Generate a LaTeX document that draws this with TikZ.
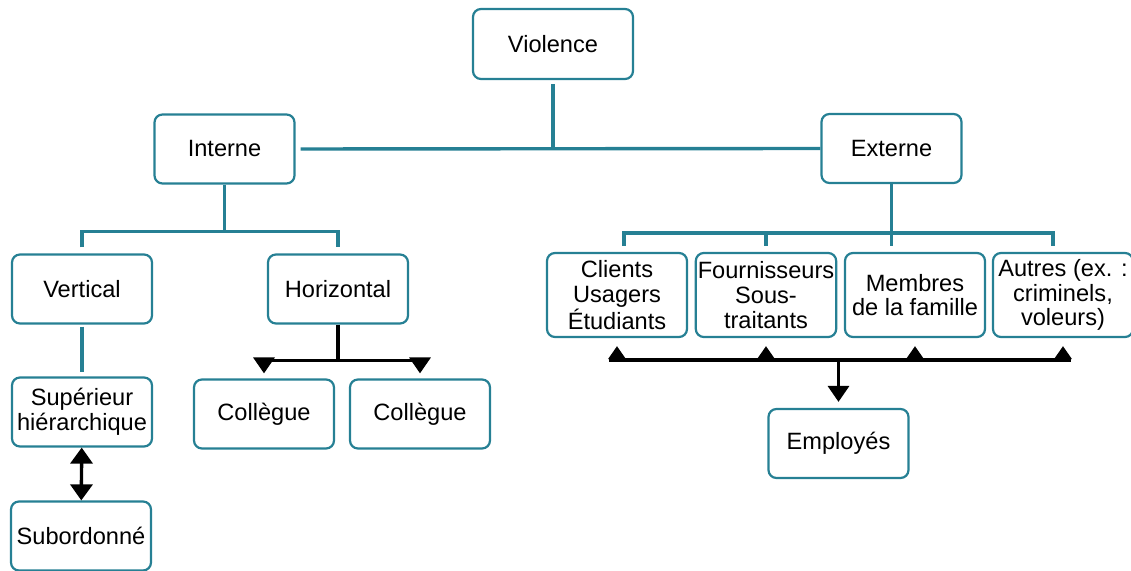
\documentclass[tikz,border=0pt]{standalone}
\usepackage{fontspec}
\setmainfont{Liberation Sans}
\usetikzlibrary{arrows.meta,positioning}
\definecolor{bleu}{RGB}{38,128,148}

\begin{document}
\begin{tikzpicture}[x=0.5pt, y=-0.5pt,
  box/.style={draw=bleu, line width=1.1pt, rounded corners=4pt, align=center, font=\fontsize{11.8}{12.3}\selectfont, minimum width=70pt, minimum height=34.5pt, inner sep=1pt},
  tall/.style={box, minimum height=42pt},
  link/.style={draw=bleu, line width=1.7pt},
  flow/.style={line width=1.7pt},
  tip/.style={-{Triangle[length=8pt, width=10.5pt]}}]
\useasboundingbox (0,0) rectangle (1131,571);
\node[box, minimum width=80pt, minimum height=35pt] (vio) at (553,44) {Violence};
\node[box] (int) at (224.5,149) {Interne};
\node[box] (ext) at (891.5,148.5) {Externe};
\node[box] (ver) at (82,289) {Vertical};
\node[box] (hor) at (338,289) {Horizontal};
\node[box] (sup) at (82,412) {Supérieur\\hiérarchique};
\node[box] (sub) at (81,536) {Subordonné};
\node[box] (col1) at (264,414) {Collègue};
\node[box] (col2) at (420,414) {Collègue};
\node[tall] (cli) at (617,295) {Clients\\Usagers\\Étudiants};
\node[tall] (fou) at (766,295) {Fournisseurs\\Sous-\\traitants};
\node[tall] (fam) at (915,295) {Membres\\de la famille};
\node[tall] (aut) at (1063,295) {Autres (ex. :\\criminels,\\voleurs)};
\node[box] (emp) at (838.5,443.5) {Employés};
% interne / externe
\draw[link, shorten <=2pt] (vio.south) -- (vio.south |- int.east);
\draw[link, shorten <=2.5pt] (int.east) -- (ext.west);
\draw[link] (int.south) -- ++(0,47) coordinate (ib);
\draw[link] ([yshift=3pt]ver.north) |- (ib) -| ([yshift=3pt]hor.north);
\draw[link, shorten <=1pt, shorten >=2pt] (ver) -- (sup);
\draw[flow, {Triangle[length=8pt, width=11pt]}-{Triangle[length=8pt, width=11pt]}] (sup) -- (sub);
% horizontal
\draw[flow] (hor.south) -- ++(0,36) coordinate (hb);
\draw[flow, shorten <=-3pt, shorten >=-3pt] (col1.north |- hb) -- (col2.north |- hb);
\foreach \c in {col1,col2}
  \draw[flow, tip] (\c.north |- hb) -- ([yshift=2.5pt]\c.north);
% externe
\path (ext.south) ++(0,49) coordinate (eb);
\draw[link] ([xshift=3.5pt, yshift=3pt]cli.north) |- (eb) -| ([xshift=-5pt, yshift=3pt]aut.north);
\draw[link] ([yshift=3pt]fou.north) -- (fou.north |- eb);
\draw[link, shorten >=3pt] (ext.south) -- (ext.south |- fam.north);
\path (cli.south) ++(0,22) coordinate (rb);
\draw[flow, shorten <=-4pt, shorten >=-4pt] (cli.south |- rb) -- (aut.south |- rb);
\foreach \c in {cli,fou,fam,aut}
  \draw[flow, -{Triangle[length=6.5pt, width=8.5pt]}] (\c.south |- rb) -- ([yshift=-4pt]\c.south);
\draw[flow, tip] (emp.north |- rb) -- ([yshift=3pt]emp.north);
\end{tikzpicture}
\end{document}
